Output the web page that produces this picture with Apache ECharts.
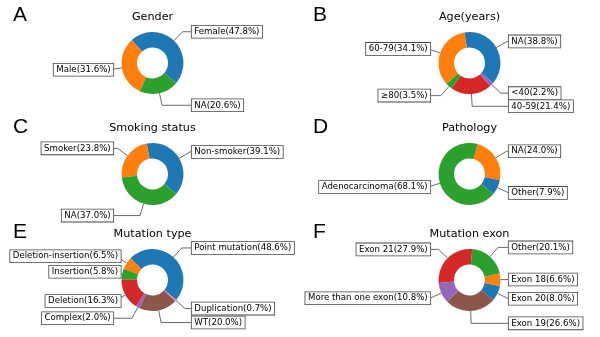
<!DOCTYPE html>
<html><head><meta charset="utf-8">
<script src="https://cdn.jsdelivr.net/npm/echarts@6/dist/echarts.min.js"></script>
<style>html,body{margin:0;padding:0;background:#fff}#c{width:600px;height:337px}</style>
</head><body><div id="c"></div>
<script>
// ---------- data ----------
const panelLetters = ['A', 'B', 'C', 'D', 'E', 'F'];
const panelTitles = ['Gender', 'Age(years)', 'Smoking status', 'Pathology', 'Mutation type', 'Mutation exon'];

const genderNames = ['Female', 'Male', 'NA'];
const genderValues = [47.8, 31.6, 20.6];

const ageNames = ['NA', '60-79', '\u226580', '40-59', '<40'];
const ageValues = [38.8, 34.1, 3.5, 21.4, 2.2];

const smokingNames = ['Non-smoker', 'Smoker', 'NA'];
const smokingValues = [39.1, 23.8, 37.0];

const pathologyNames = ['Other', 'NA', 'Adenocarcinoma'];
const pathologyValues = [7.9, 24.0, 68.1];

const mutTypeNames = ['Point mutation', 'Deletion-insertion', 'Insertion', 'Deletion', 'Complex', 'WT', 'Duplication'];
const mutTypeValues = [48.6, 6.5, 5.8, 16.3, 2.0, 20.0, 0.7];

const exonNames = ['Exon 20', 'Exon 18', 'Other', 'Exon 21', 'More than one exon', 'Exon 19'];
const exonValues = [8.0, 6.6, 20.1, 27.9, 10.8, 26.6];

// ---------- layout / style ----------
const palette = ['#1f77b4', '#ff7f0e', '#2ca02c', '#d62728', '#9467bd', '#8c564b', '#e377c2', '#7f7f7f', '#bcbd22', '#17becf'];
const colX = [152.5, 469.5];
const rowY = [63, 174, 280];
const titleY = [17, 128.5, 234];
const letterY = [15.7, 127.5, 232];
const letterX = [13, 313];
const R = 31, R0 = 15.5, PAD = 2.6;
const START = -40;            // degrees, counter-clockwise
const LABEL_FONT = 8.6;
const FONT = 'DejaVu Sans';
const LINE_COLOR = '#444';

const panels = [
  { names: genderNames, values: genderValues },
  { names: ageNames, values: ageValues },
  { names: smokingNames, values: smokingValues },
  { names: pathologyNames, values: pathologyValues },
  { names: mutTypeNames, values: mutTypeValues, xf: [1.35, 1.11, 1.11, 1.11, 1.35, 1.35, 1.35] },
  { names: exonNames, values: exonValues }
];

function buildSeries(p, idx) {
  const cx = colX[idx % 2], cy = rowY[Math.floor(idx / 2)];
  const total = p.values.reduce((a, b) => a + b, 0);
  let a = START;
  const data = p.names.map((n, i) => {
    const sweep = p.values[i] / total * 360;
    const mid = a + sweep / 2;
    a += sweep;
    const c = Math.abs(Math.cos(mid * Math.PI / 180));
    const xf = (p.xf && p.xf[i]) || 1.35;
    const edge = xf * R - PAD;
    const len = 0.4 * R;
    const want = edge - 1.4 * R * c;
    const len2 = Math.max(0.3, want);
    const dist = want - len2;
    return {
      name: n, value: p.values[i],
      itemStyle: { color: palette[i % palette.length] },
      labelLine: { length: len, length2: len2 },
      label: { distanceToLabelLine: dist }
    };
  });
  return {
    type: 'pie',
    center: [cx, cy],
    radius: [R0, R],
    startAngle: START,
    clockwise: false,
    avoidLabelOverlap: false,
    labelLayout: { hideOverlap: false },
    animation: false,
    silent: true,
    itemStyle: { borderWidth: 0 },
    label: {
      show: true,
      position: 'outside',
      alignTo: 'none',
      formatter: (q) => q.name + '(' + q.value.toFixed(1) + '%)',
      fontFamily: FONT,
      fontSize: LABEL_FONT,
      lineHeight: 10,
      color: '#000',
      backgroundColor: '#fff',
      borderColor: LINE_COLOR,
      borderWidth: 0.8,
      padding: [1, PAD, 1, PAD]
    },
    labelLine: {
      show: true,
      smooth: false,
      lineStyle: { color: LINE_COLOR, width: 0.8 }
    },
    data: data
  };
}

const graphics = [];
panelLetters.forEach((L, i) => {
  graphics.push({
    type: 'text', x: letterX[i % 2], y: letterY[Math.floor(i / 2)],
    style: { text: L, fontFamily: 'Liberation Sans', fontSize: 21, fill: '#000',
             align: 'left', verticalAlign: 'middle', textAlign: 'left', textVerticalAlign: 'middle' }
  });
});
panelTitles.forEach((T, i) => {
  graphics.push({
    type: 'text', x: colX[i % 2], y: titleY[Math.floor(i / 2)],
    style: { text: T, fontFamily: FONT, fontSize: 11.2, fill: '#000',
             align: 'center', verticalAlign: 'middle', textAlign: 'center', textVerticalAlign: 'middle' }
  });
});

const chart = echarts.init(document.getElementById('c'), null, { renderer: 'canvas' });
chart.setOption({
  backgroundColor: '#fff',
  animation: false,
  color: palette,
  graphic: graphics,
  series: panels.map(buildSeries)
});
</script>
</body></html>
